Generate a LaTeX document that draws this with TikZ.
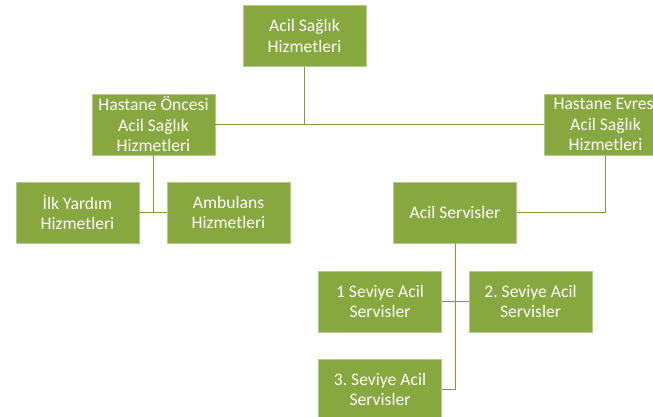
\documentclass[tikz,border=0pt]{standalone}
\usepackage{fontspec}
\setmainfont{Carlito}
\frenchspacing
\definecolor{boxgreen}{HTML}{86A83E}
\definecolor{linegreen}{HTML}{7A9E3A}
\begin{document}
\begin{tikzpicture}[x=1pt,y=-1pt,
  box/.style={draw=boxgreen!60!white, line width=0.6pt, fill=boxgreen, text=white,
    minimum width=123pt, minimum height=61pt, inner sep=0pt, align=center,
    font=\fontsize{17.6}{20.5}\selectfont},
  link/.style={draw=linegreen, line width=1pt}]
\path[use as bounding box] (0,0) rectangle (653,416);
\clip (0,0) rectangle (653,416);
\node(top) at (304.5,36) [box]{Acil Sağlık\\Hizmetleri};
\node(once) at (153.5,124.5) [box]{Hastane Öncesi\\Acil Sağlık\\Hizmetleri};
\node(evre) at (605.5,124.5) [box]{Hastane Evresi\\Acil Sağlık\\Hizmetleri};
\node(ilk) at (77.5,212.5) [box]{İlk Yardım\\Hizmetleri};
\node(amb) at (228.5,212.5) [box]{Ambulans\\Hizmetleri};
\node(acil) at (455,212.5) [box]{Acil Servisler};
\node(sev1) at (380,301.5) [box]{1 Seviye Acil\\Servisler};
\node(sev2) at (530.5,301.5) [box]{2. Seviye Acil\\Servisler};
\node(sev3) at (380,389.5) [box]{3. Seviye Acil\\Servisler};

\draw[link] (top) -- (top |- once.east);
\draw[link] (once.east) -- (evre.west);
\draw[link] (once) -- (once |- ilk.east);
\draw[link] (ilk.east) -- (amb.west);
\draw[link] (evre.south) |- (acil.east);
\draw[link] (acil.south) |- (sev3.east);
\draw[link] (sev1.east) -- (sev2.west);

\end{tikzpicture}
\end{document}
